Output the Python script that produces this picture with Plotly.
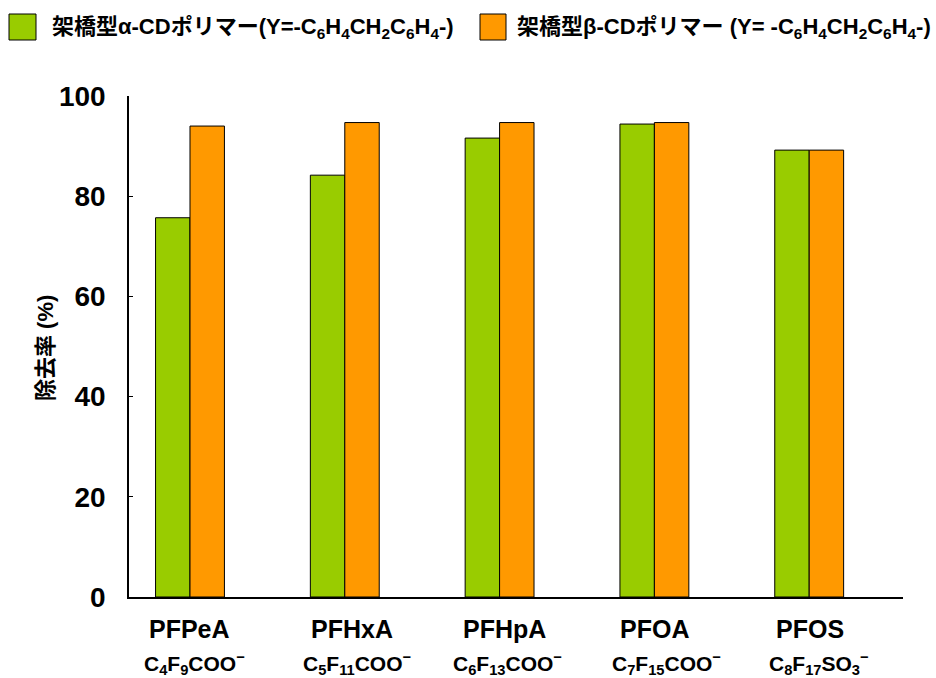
import plotly.graph_objects as go

# Removal rate (%) of perfluoro compounds by two cross-linked CD polymers
compounds = ["PFPeA", "PFHxA", "PFHpA", "PFOA", "PFOS"]
formulas = [
    "C<sub>4</sub>F<sub>9</sub>COO<sup>−</sup>",
    "C<sub>5</sub>F<sub>11</sub>COO<sup>−</sup>",
    "C<sub>6</sub>F<sub>13</sub>COO<sup>−</sup>",
    "C<sub>7</sub>F<sub>15</sub>COO<sup>−</sup>",
    "C<sub>8</sub>F<sub>17</sub>SO<sub>3</sub><sup>−</sup>",
]
alpha_cd = [75.7, 84.2, 91.6, 94.4, 89.2]
beta_cd = [94.0, 94.7, 94.7, 94.7, 89.2]

alpha_name = "架橋型α-CDポリマー(Y=-C<sub>6</sub>H<sub>4</sub>CH<sub>2</sub>C<sub>6</sub>H<sub>4</sub>-)"
beta_name = "架橋型β-CDポリマー (Y= -C<sub>6</sub>H<sub>4</sub>CH<sub>2</sub>C<sub>6</sub>H<sub>4</sub>-)"
y_ticks = [0, 20, 40, 60, 80, 100]

GREEN = "#99CC00"
ORANGE = "#FF9900"
FONT = "Arial, Liberation Sans, Noto Sans CJK JP, sans-serif"

# page / plot-area geometry in pixels
W, H = 936, 678
L, R, T, B = 129, 33, 96, 81
PW, PH = W - L - R, H - T - B


def px(x):
    return (x - L) / PW


def py(y):
    return (H - B - y) / PH


fig = go.Figure()
fig.add_trace(go.Bar(x=compounds, y=alpha_cd, name="α-CD", marker=dict(color=GREEN, line=dict(color="#000000", width=1)), showlegend=False))
fig.add_trace(go.Bar(x=compounds, y=beta_cd, name="β-CD", marker=dict(color=ORANGE, line=dict(color="#000000", width=1)), showlegend=False))

annotations = []
shapes = []

# category labels: compound name and formula
name_shift = [0, 7, 5, 0, 1]
formula_shift = [5, 12, 8, 12, 10]
for i, (c, f) in enumerate(zip(compounds, formulas)):
    annotations.append(dict(x=c, xref="x", y=py(629), yref="paper", text=f"<b>{c}</b>",
                            showarrow=False, xanchor="center", yanchor="middle", xshift=name_shift[i],
                            font=dict(family=FONT, size=25, color="#000000")))
    annotations.append(dict(x=c, xref="x", y=py(663), yref="paper", text=f"<b>{f}</b>",
                            showarrow=False, xanchor="center", yanchor="middle", xshift=formula_shift[i],
                            font=dict(family=FONT, size=21, color="#000000")))

# y axis title
annotations.append(dict(x=px(45), xref="paper", y=py(348), yref="paper", text="<b>除去率 (%)</b>",
                        textangle=-90, showarrow=False, xanchor="center", yanchor="middle",
                        font=dict(family=FONT, size=22, color="#000000")))

# legend: colour boxes with labels
for (x0, x1, col, tx, label) in [(9, 36, GREEN, 50, alpha_name), (480, 506, ORANGE, 515, beta_name)]:
    shapes.append(dict(type="rect", xref="paper", yref="paper", x0=px(x0), x1=px(x1), y0=py(40), y1=py(14),
                       fillcolor=col, line=dict(color="#000000", width=1)))
    annotations.append(dict(x=px(tx), xref="paper", y=py(28), yref="paper", text=f"<b>{label}</b>",
                            showarrow=False, xanchor="left", yanchor="middle",
                            font=dict(family=FONT, size=22, color="#000000")))

fig.update_layout(
    width=W, height=H,
    margin=dict(l=L, r=R, t=T, b=B, pad=0),
    paper_bgcolor="white", plot_bgcolor="white",
    barmode="group", bargap=0.555, bargroupgap=0,
    font=dict(family=FONT, color="#000000"),
    annotations=annotations, shapes=shapes,
    xaxis=dict(range=[-0.394, 4.606], showline=True, linecolor="#000000", linewidth=1.5,
               ticks="", showticklabels=False, showgrid=False, zeroline=False),
    yaxis=dict(range=[0, 100], tickvals=y_ticks, ticktext=[f"<b>{v}</b>" for v in y_ticks],
               showline=True, linecolor="#000000", linewidth=1.5, ticks="inside", ticklen=4,
               tickcolor="#000000", showgrid=False, zeroline=False, ticklabelstandoff=16,
               tickfont=dict(family=FONT, size=28, color="#000000")),
)

fig.write_html("out.html")
